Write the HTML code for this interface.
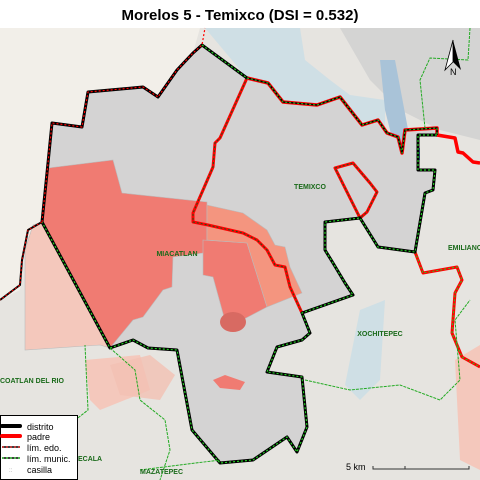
<!DOCTYPE html>
<html><head><meta charset="utf-8"><style>
body{margin:0;background:#fff;font-family:"Liberation Sans",sans-serif}
#wrap{position:relative;width:480px;height:480px;overflow:hidden}
</style></head><body>
<div id="wrap">
<svg width="480" height="480" viewBox="0 0 480 480" xmlns="http://www.w3.org/2000/svg">
<text x="240" y="20" text-anchor="middle" font-size="15" font-weight="bold" font-family="Liberation Sans">Morelos 5 - Temixco (DSI = 0.532)</text>
<g>
<rect x="0" y="28" width="480" height="452" fill="#e6e4e0"/>
<polygon points="0,28 200,28 193,53 177,70 158,97 143,87 88,92 82,127 52,123 48,163 42,222 25,240 20,290 0,300" fill="#f2efe9"/>
<polygon points="205,28 300,28 305,60 330,80 350,95 385,100 385,130 360,120 340,97 317,105 283,102 268,83 247,78" fill="#c9dde6" opacity="0.8"/>
<polygon points="340,28 480,28 480,140 440,130 400,110 370,80" fill="#cfcfcf" opacity="0.8"/>
<polygon points="380,60 395,60 410,140 395,150 385,110" fill="#a9c3d8"/>
<polygon points="360,310 385,300 380,380 360,400 345,385" fill="#c9dde6" opacity="0.8"/>
<polygon points="85,360 140,355 150,390 100,410 90,400" fill="#f4c8bc"/>
<polygon points="110,365 150,355 175,375 160,400 120,395" fill="#f2c0b3" opacity="0.8"/>
<polygon points="455,360 480,345 480,470 460,460" fill="#f4c8bc"/>
<polygon points="405,150 420,148 420,160 405,160" fill="#3f7fbf"/>
<polygon points="352,132 375,133 370,148 362,147" fill="#f4a45a"/>
<polygon points="378,180 388,178 385,195 375,200" fill="#f4a45a"/>
</g>
<g>
<polygon points="42,222 110,348 100,345 25,350 25,250 33,225" fill="#f4c8bc" stroke="#bbb" stroke-width="0.6"/>
</g>
<g>
<polygon points="202,45 247,78 268,83 283,102 317,105 340,97 362,125 378,120 387,133 398,137 402,153 405,130 437,128 437,135 418,135 418,170 435,170 433,190 425,193 415,252 378,247 360,218 325,222 325,250 333,263 345,283 353,295 302,313 310,333 302,340 277,347 267,372 302,377 307,427 297,452 287,437 253,460 220,463 192,430 177,350 148,348 133,340 110,348 42,222 48,163 52,123 82,127 88,92 143,87 158,97 177,70 193,53" fill="#d4d3d3" stroke="none"/>
<polygon points="48,168 113,160 122,193 207,202 207,240 203,253 173,257 172,287 163,290 143,317 133,320 110,348 42,222" fill="#f07b72" stroke="#bbb" stroke-width="0.6"/>
<polygon points="203,240 247,243 267,307 227,328 213,277 203,275" fill="#f07b72" stroke="#bbb" stroke-width="0.6"/>
<polygon points="207,205 243,213 267,230 275,245 285,247 290,267 302,293 267,307 247,243 207,240" fill="#f4957f" stroke="#bbb" stroke-width="0.6"/>
<ellipse cx="233" cy="322" rx="13" ry="10" fill="#d86a62"/>
<polygon points="213,380 225,375 245,382 240,390 220,388" fill="#f07b72"/>
</g>
<g fill="none" stroke-linejoin="round">
<polyline points="247,78 220,138 215,143 213,167 193,213 193,222 208,225 243,233 257,240 267,250 275,265 285,267 290,287 302,313" stroke="#ff0000" stroke-width="3"/>
<polyline points="247,78 268,83 283,102 317,105 340,97 362,125 378,120 387,133 398,137 402,153 405,130 437,128 437,135 455,138 458,152 463,153 473,162 480,163" stroke="#ff0000" stroke-width="3.5"/>
<polygon points="335,168 353,163 370,183 377,192 367,212 360,218 350,198" stroke="#ff0000" stroke-width="3"/>
<polyline points="415,252 423,273 457,267 462,280 455,293 452,333 462,357 480,367" stroke="#ff0000" stroke-width="3"/>
<polyline points="247,78 220,138 215,143 213,167 193,213 193,222 208,225 243,233 257,240 267,250 275,265 285,267 290,287 302,313" stroke="#1a5a1a" stroke-width="1" stroke-dasharray="2,2"/>
<polygon points="335,168 353,163 370,183 377,192 367,212 360,218 350,198" stroke="#1a5a1a" stroke-width="1" stroke-dasharray="2,2"/>
<polyline points="415,252 423,273 457,267 462,280 455,293 452,333 462,357 480,367" stroke="#22cc22" stroke-width="1" stroke-dasharray="2,2"/>
</g>
<g fill="none" stroke-linejoin="round">
<polyline points="437,135 418,135 418,170 435,170 433,190 425,193 415,252 378,247 360,218 325,222 325,250 333,263 345,283 353,295 302,313 310,333 302,340 277,347 267,372 302,377 307,427 297,452 287,437 253,460 220,463 192,430 177,350 148,348 133,340 110,348 42,222 48,163 52,123 82,127 88,92 143,87 158,97 177,70 193,53 202,45 247,78" stroke="#000" stroke-width="3"/>
<polyline points="247,78 268,83 283,102 317,105 340,97 362,125 378,120 387,133 398,137 402,153 405,130 437,128 437,135" stroke="#000" stroke-width="1.6"/>
<polyline points="247,78 268,83 283,102 317,105 340,97 362,125 378,120 387,133 398,137 402,153 405,130 437,128 437,135" stroke="#22cc22" stroke-width="1" stroke-dasharray="2,2"/>
<polyline points="202,45 247,78" stroke="#22cc22" stroke-width="1.2" stroke-dasharray="2,2"/>
<polyline points="437,135 418,135 418,170 435,170 433,190 425,193 415,252 378,247 360,218 325,222 325,250 333,263 345,283 353,295 302,313 310,333 302,340 277,347 267,372 302,377 307,427 297,452 287,437 253,460 220,463 192,430 177,350 148,348 133,340 110,348 42,222" stroke="#22cc22" stroke-width="1.2" stroke-dasharray="2,2"/>
<polyline points="42,222 48,163 52,123 82,127 88,92 143,87 158,97 177,70 193,53 202,45 205,28" stroke="#ff0000" stroke-width="1.2" stroke-dasharray="2,2"/>
<polyline points="42,222 28,230 22,260 20,285 0,300" stroke="#000" stroke-width="2"/>
<polyline points="42,222 28,230 22,260 20,285 0,300" stroke="#ff0000" stroke-width="1" stroke-dasharray="2,2"/>
</g>
<g fill="none" stroke="#22aa22" stroke-width="1" stroke-dasharray="3,1">
<polyline points="45,480 50,440 88,410 85,345"/>
<polyline points="110,348 135,370 140,400 165,420 170,450 160,480"/>
<polyline points="140,470 220,460"/>
<polyline points="305,380 350,390 400,385 440,400 460,380 455,320 470,300"/>
<polyline points="470,28 468,60 430,58 420,80 425,128"/>
</g>
<g font-family="Liberation Sans" font-size="7" font-weight="bold" fill="#1a6a1a">
<text x="177" y="256" text-anchor="middle">MIACATLAN</text>
<text x="310" y="189" text-anchor="middle">TEMIXCO</text>
<text x="380" y="336" text-anchor="middle">XOCHITEPEC</text>
<text x="448" y="250">EMILIANO Z</text>
<text x="0" y="383">COATLAN DEL RIO</text>
<text x="140" y="474">MAZATEPEC</text>
<text x="78" y="461">ECALA</text>
</g>
<g>
<polygon points="453,40 445,70 453,62" fill="#fff" stroke="#000" stroke-width="0.8"/>
<polygon points="453,40 461,70 453,62" fill="#000"/>
<text x="450" y="75" font-size="9" font-family="Liberation Sans" fill="#000">N</text>
</g>
<g>
<text x="346" y="470" font-size="9" font-family="Liberation Sans" fill="#000">5 km</text>
<polyline points="373,466 373,469 469,469 469,466" fill="none" stroke="#333" stroke-width="1"/>
<line x1="405" y1="466" x2="405" y2="469" stroke="#333"/>
</g>
<g>
<rect x="0.5" y="415.5" width="77" height="64" fill="#fff" stroke="#000" stroke-width="1"/>
<line x1="2" y1="426" x2="20" y2="426" stroke="#000" stroke-width="4" stroke-linecap="round"/>
<text x="27" y="430" font-size="9" font-family="Liberation Sans">distrito</text>
<line x1="2" y1="436" x2="20" y2="436" stroke="#f00" stroke-width="4" stroke-linecap="round"/>
<text x="27" y="440" font-size="9" font-family="Liberation Sans">padre</text>
<line x1="2" y1="447" x2="20" y2="447" stroke="#000" stroke-width="1.5"/>
<line x1="2" y1="447" x2="20" y2="447" stroke="#f00" stroke-width="1" stroke-dasharray="2,2"/>
<text x="27" y="451" font-size="9" font-family="Liberation Sans">lím. edo.</text>
<line x1="2" y1="458" x2="20" y2="458" stroke="#000" stroke-width="1.5"/>
<line x1="2" y1="458" x2="20" y2="458" stroke="#2e2" stroke-width="1" stroke-dasharray="2,2"/>
<text x="27" y="462" font-size="9" font-family="Liberation Sans">lím. munic.</text>
<text x="9" y="472" font-size="6" fill="#999" font-family="Liberation Sans">::</text>
<text x="27" y="473" font-size="9" font-family="Liberation Sans">casilla</text>
</g>
</svg>
</div>
</body></html>
